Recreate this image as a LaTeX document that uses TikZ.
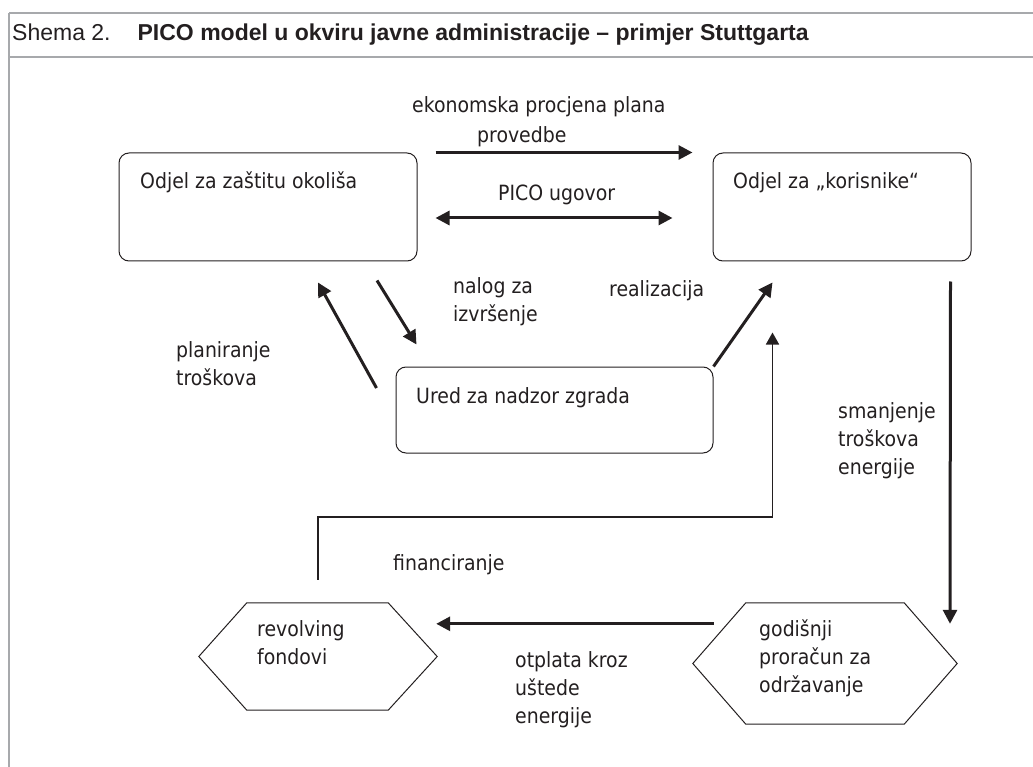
\documentclass[tikz,border=0pt]{standalone}
\usepackage{fontspec}
\setmainfont{Liberation Sans}
\newfontfamily\dfont{DejaVu Sans Condensed}
\usetikzlibrary{arrows.meta,calc}
\definecolor{ink}{HTML}{231F20}
\definecolor{rule}{HTML}{A7A9AC}
\tikzset{
  frameline/.style={draw=rule,line width=2.5pt},
  roundbox/.style={draw=ink,line width=1pt,rounded corners=10pt,inner sep=0pt,fill=none},
  hexframe/.style={inner sep=0pt},
  hexline/.style={draw=ink,line width=1pt,line join=miter},
  lbl/.style={inner sep=0pt,anchor=base west,align=left,text=ink,font={\dfont\fontsize{21}{28}\selectfont}},
  thickarrow/.style={draw=ink,line width=3pt,-{Triangle[length=14pt,width=14pt]}},
  thickdouble/.style={draw=ink,line width=3pt,{Triangle[length=14pt,width=14pt]}-{Triangle[length=14pt,width=14pt]}},
  thinarrow/.style={draw=ink,line width=1.6pt,-{Triangle[length=12pt,width=13pt]}},
}
\begin{document}
\begin{tikzpicture}[x=1pt,y=-1pt]
\useasboundingbox (0,0) rectangle (1033,767);
% frame
\coordinate (ftl) at (9,13);
\coordinate (ftr) at (1033,13);
\coordinate (fml) at (9,57);
\coordinate (fmr) at (1033,57);
\coordinate (fbl) at (9,767);
\draw[frameline] (ftl) -- (ftr);
\draw[frameline] (fml) -- (fmr);
\draw[frameline] (ftl) -- (fbl);
\node[inner sep=0pt,anchor=base west,text=ink,font=\fontsize{23}{26}\selectfont] (title) at (12,41)
  {Shema 2.\hspace{27pt}\textbf{PICO model u okviru javne administracije – primjer Stuttgarta}};

% boxes
\node[roundbox,minimum width=298pt,minimum height=108pt] (A) at (268,207) {};
\node[roundbox,minimum width=258pt,minimum height=108pt] (B) at (842,207) {};
\node[roundbox,minimum width=317pt,minimum height=86pt] (C) at (554.5,410) {};
\node[lbl] (At) at (140,189) {Odjel za zaštitu okoliša};
\node[lbl] (Bt) at (733,189) {Odjel za „korisnike“};
\node[lbl] (Ct) at (416,403) {Ured za nadzor zgrada};

% hexagons
\node[hexframe,minimum width=238pt,minimum height=107pt] (HL) at (318,656.5) {};
\draw[hexline] (HL.west) -- ($(HL.north west)+(48,0)$) -- ($(HL.north east)+(-49,0)$) -- (HL.east)
  -- ($(HL.south east)+(-49,0)$) -- ($(HL.south west)+(48,0)$) -- cycle;
\node[hexframe,minimum width=264pt,minimum height=121pt] (HR) at (825,663.5) {};
\draw[hexline] (HR.west) -- ($(HR.north west)+(53,0)$) -- ($(HR.north east)+(-53,0)$) -- (HR.east)
  -- ($(HR.south east)+(-53,0)$) -- ($(HR.south west)+(53,0)$) -- cycle;
% multi-line nodes: base anchor = last line baseline
\node[lbl] (HLt) at (257,664) {revolving\\fondovi};
\node[lbl] (HRt) at (759,692) {godišnji\\proračun za\\održavanje};

% connectors
\draw[thickarrow] ($(A.north east)+(18,0)$) -- ($(B.north west)+(-20,0)$);
\draw[thickdouble] ($(A.east)+(18,11)$) -- ($(B.west)+(-40,11)$);
\draw[thickarrow] ($(C.west)+(-19,-22)$) -- ($(A.south)+(50,21)$);
\draw[thickarrow] ($(A.south)+(109,19)$) -- ($(C.north west)+(21,-22)$);
\draw[thickarrow] (C.north east) -- ($(B.south west)+(60,21)$);
\draw[thinarrow] ($(HL.north)+(0,-23)$) -- ++(0,-63) -| ($(B.south west)+(60,71)$);
\draw[thickarrow] ($(B.south east)+(-21,20)$) -- ($(HR.north)+(125,21)$);
\draw[thickarrow] ($(HR.north west)+(21,21)$) -- ($(HL.north east)+(-1,21)$);

% labels
\node[lbl] (l1a) at (412,113) {ekonomska procjena plana};
\node[lbl] (l1b) at (477,143) {provedbe};
\node[lbl] (l2) at (498,201) {PICO ugovor};
\node[lbl] (l3) at (453,321) {nalog za\\izvršenje};
\node[lbl] (l4) at (609,297) {realizacija};
\node[lbl] (l5) at (176,385) {planiranje\\troškova};
\node[lbl] (l6) at (838,474) {smanjenje\\troškova\\energije};
\node[lbl] (l7) at (393,570) {financiranje};
\node[lbl] (l8) at (515,723) {otplata kroz\\uštede\\energije};
\end{tikzpicture}
\end{document}
